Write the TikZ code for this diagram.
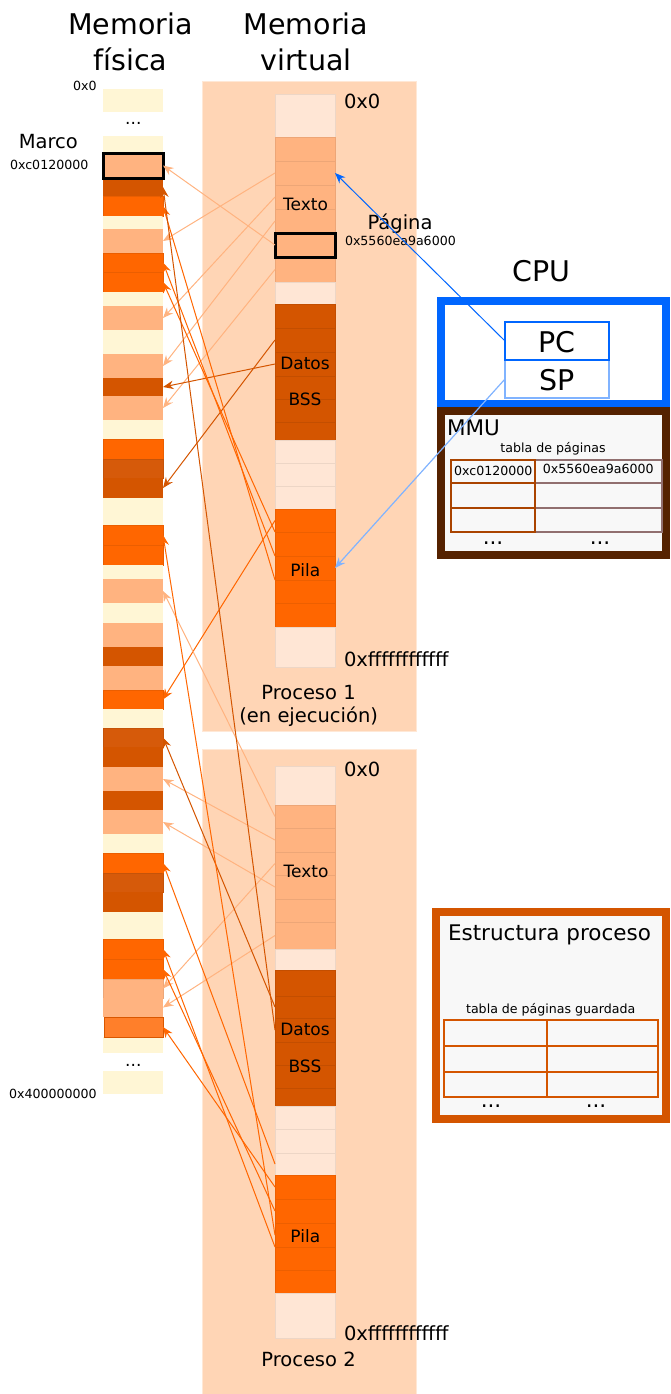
\documentclass[tikz,border=0pt]{standalone}
\usepackage{fontspec}
\setmainfont{DejaVu Sans}
\usetikzlibrary{arrows.meta}
\definecolor{cream}{HTML}{FFF6D5}
\definecolor{ltor}{HTML}{FFB380}
\definecolor{orn}{HTML}{FF6600}
\definecolor{dko}{HTML}{D45500}
\definecolor{mido}{HTML}{D65A0A}
\definecolor{orntwo}{HTML}{FF7F2A}
\definecolor{vbg}{HTML}{FFD5B5}
\definecolor{vlt}{HTML}{FFE6D5}
\definecolor{cpublue}{HTML}{0066FF}
\definecolor{spblue}{HTML}{80B3FF}
\definecolor{mmubrown}{HTML}{552200}
\definecolor{tblbrown}{HTML}{AA4400}
\definecolor{tblgray}{HTML}{916F6F}
\definecolor{panel}{HTML}{F8F8F8}
\newcommand\fTitle{\fontsize{28.5}{34}\selectfont}
\newcommand\fBig{\fontsize{19.5}{23}\selectfont}
\newcommand\fLab{\fontsize{17}{20}\selectfont}
\newcommand\fSm{\fontsize{12.6}{15}\selectfont}
\newcommand\fMid{\fontsize{21.5}{26}\selectfont}
\newcommand{\blk}[6]{%
 \pgfmathsetmacro\myBx{(#2+#3)/2}%
 \pgfmathsetmacro\myBy{(#4+#5)/2}%
 \pgfmathsetmacro\myBw{#3-#2}%
 \pgfmathsetmacro\myBh{#5-#4}%
 \node[blkbase,#6,minimum width=\myBw pt,minimum height=\myBh pt] (#1) at (\myBx,\myBy) {};}
\newcommand{\pb}[4]{\blk{#1}{103}{163}{#2}{#3}{#4}}
\newcommand{\vbk}[4]{\blk{#1}{275}{335}{#2}{#3}{#4}}
\tikzset{
 blkbase/.style={rectangle, inner sep=0pt, outer sep=0pt, line width=0.8pt},
 pcream/.style={fill=cream},
 plt/.style={fill=ltor},
 porn/.style={fill=orn, draw=orn!92!black},
 pdk/.style={fill=dko},
 pmid/.style={fill=mido, draw=mido!92!black},
 vl/.style={fill=vlt, draw=vlt!93!black},
 vt/.style={fill=ltor, draw=ltor!93!black},
 vd/.style={fill=dko, draw=dko!92!black},
 vp/.style={fill=orn, draw=orn!93!black},
 txt/.style={inner sep=0pt, outer sep=0pt, anchor=base},
 lnk/.style={line width=1pt, -{Stealth[length=10.5pt,width=8.5pt,inset=3.5pt]}},
 ltxt/.style={lnk, draw=ltor},
 ldat/.style={lnk, draw=dko},
 lpil/.style={lnk, draw=orn},
}
\begin{document}
\begin{tikzpicture}[x=1pt,y=-1pt]
\useasboundingbox (0,0) rectangle (670,1394);
% titles
\node[txt,font=\fTitle] (tmf1) at (130.5,35) {Memoria};
\node[txt,font=\fTitle] (tmf2) at (130.5,70.5) {física};
\node[txt,font=\fTitle] (tmv1) at (306,35) {Memoria};
\node[txt,font=\fTitle] (tmv2) at (306,70.5) {virtual};
% virtual backgrounds
\blk{bgone}{202}{416}{82}{731}{fill=vbg, draw=vbg!55!white, line width=1pt}
\blk{bgtwo}{202}{416}{749}{1400}{fill=vbg, draw=vbg!55!white, line width=1pt}
% physical memory
\node[txt,font=\fSm,anchor=base east] (l0x0) at (96.7,91) {0x0};
\node[txt,font=\fLab,anchor=base] (pdots1) at (133.3,124.5) {...};
\node[txt,font=\fBig] (lmarco) at (48.3,149) {Marco};
\node[txt,font=\fSm] (lmarcoaddr) at (49.2,169.3) {0xc0120000};
\node[txt,font=\fSm,anchor=base east] (lend) at (96.7,1098.3) {0x400000000};
\node[txt,font=\fLab,anchor=base] (pdots2) at (133.3,1066) {...};
\pb{p0}{89}{112}{pcream}
\pb{p1}{136}{153}{pcream}
\pb{p2}{178}{196}{pdk}
\pb{p3}{196}{216}{porn}
\pb{p4}{216}{229}{pcream}
\pb{p5}{229}{253}{plt}
\pb{p6}{253}{272}{porn}
\pb{p7}{272}{292}{porn}
\pb{p8}{292}{306}{pcream}
\pb{p9}{306}{330}{plt}
\pb{p10}{330}{354}{pcream}
\pb{p11}{354}{378}{plt}
\pb{p12}{378}{396}{pdk}
\pb{p13}{396}{420}{plt}
\pb{p14}{420}{439}{pcream}
\pb{p15}{439}{459}{porn}
\pb{p16}{459}{478}{pmid}
\pb{p17}{478}{498}{pdk}
\pb{p18}{498}{525}{pcream}
\pb{p19}{525}{545}{porn}
\pb{p20}{545}{565}{porn}
\pb{p21}{565}{579}{pcream}
\pb{p22}{579}{603}{plt}
\pb{p23}{603}{623}{pcream}
\pb{p24}{623}{647}{plt}
\pb{p25}{647}{666}{pdk}
\pb{p26}{666}{690}{plt}
\pb{p27}{690}{709}{porn}
\pb{p28}{709}{728}{pcream}
\pb{p29}{728}{747}{pmid}
\pb{p30}{747}{767}{pdk}
\pb{p31}{767}{791}{plt}
\pb{p32}{791}{810}{pdk}
\pb{p33}{810}{834}{plt}
\pb{p34}{834}{853}{pcream}
\pb{p35}{853}{873}{porn}
\pb{p36}{873}{892}{pmid}
\pb{p37}{892}{912}{pdk}
\pb{p38}{912}{939}{pcream}
\pb{p39}{939}{959}{porn}
\pb{p40}{959}{979}{porn}
\pb{p41}{979}{998}{plt, draw=ltor!93!black}
\pb{p42}{998}{1017}{plt}
\pb{p44}{1037}{1053}{pcream}
\pb{p45}{1071}{1094}{pcream}
\blk{p43}{104}{163}{1017}{1037}{fill=orntwo, draw=orn!85!black, line width=1pt}
\pb{pM}{153}{178}{plt, draw=black, line width=3pt}
% virtual process 1
\node[txt,font=\fBig,anchor=base west] (v1lo) at (344,109) {0x0};
\vbk{v1a}{94}{137}{vl}
\vbk{v1t1}{137}{161}{vt}
\vbk{v1t2}{161}{185}{vt}
\vbk{v1t3}{185}{209}{vt}
\vbk{v1t4}{209}{233}{vt}
\vbk{v1t6}{257}{282}{vt}
\vbk{v1b}{282}{304}{vl}
\vbk{v1d1}{304}{328}{vd}
\vbk{v1d2}{328}{352}{vd}
\vbk{v1d3}{352}{376}{vd}
\vbk{v1d4}{376}{399}{vd}
\vbk{v1d5}{399}{422}{vd}
\vbk{v1d6}{422}{440}{vd}
\vbk{v1e1}{440}{463}{vl}
\vbk{v1e2}{463}{486}{vl}
\vbk{v1e3}{486}{509}{vl}
\vbk{v1s1}{509}{532}{vp}
\vbk{v1s2}{532}{556}{vp}
\vbk{v1s3}{556}{580}{vp}
\vbk{v1s4}{580}{603}{vp}
\vbk{v1s5}{603}{627}{vp}
\vbk{v1f}{627}{667}{vl}
\vbk{v1t5}{233}{257}{fill=ltor, draw=black, line width=3pt}
\node[txt,font=\fLab] (v1ltext) at (305.5,210) {Texto};
\node[txt,font=\fLab] (v1ldat) at (305,369) {Datos};
\node[txt,font=\fLab] (v1lbss) at (305,405.5) {BSS};
\node[txt,font=\fLab] (v1lpila) at (305.3,576.5) {Pila};
\node[txt,font=\fBig] (lpag) at (400,229.3) {Página};
\node[txt,font=\fSm,anchor=base west] (lpagaddr) at (345,245.7) {0x5560ea9a6000};
\node[txt,font=\fBig,anchor=base west] (v1hi) at (344,666) {0xffffffffffff};
\node[txt,font=\fBig] (lp1a) at (308.5,699) {Proceso 1};
\node[txt,font=\fBig] (lp1b) at (308.7,722.5) {(en ejecución)};
% virtual process 2
\node[txt,font=\fBig,anchor=base west] (v2lo) at (344,776) {0x0};
\vbk{v2a}{766}{805}{vl}
\vbk{v2t1}{805}{828}{vt}
\vbk{v2t2}{828}{852}{vt}
\vbk{v2t3}{852}{875}{vt}
\vbk{v2t4}{875}{899}{vt}
\vbk{v2t5}{899}{922}{vt}
\vbk{v2t6}{922}{949}{vt}
\vbk{v2b}{949}{970}{vl}
\vbk{v2d1}{970}{996}{vd}
\vbk{v2d2}{996}{1018}{vd}
\vbk{v2d3}{1018}{1042}{vd}
\vbk{v2d4}{1042}{1065}{vd}
\vbk{v2d5}{1065}{1088}{vd}
\vbk{v2d6}{1088}{1106}{vd}
\vbk{v2e1}{1106}{1129}{vl}
\vbk{v2e2}{1129}{1153}{vl}
\vbk{v2e3}{1153}{1175}{vl}
\vbk{v2s1}{1175}{1199}{vp}
\vbk{v2s2}{1199}{1223}{vp}
\vbk{v2s3}{1223}{1247}{vp}
\vbk{v2s4}{1247}{1270}{vp}
\vbk{v2s5}{1270}{1293}{vp}
\vbk{v2f}{1293}{1338}{vl}
\node[txt,font=\fLab] (v2ltext) at (306,877) {Texto};
\node[txt,font=\fLab] (v2ldat) at (305,1035.5) {Datos};
\node[txt,font=\fLab] (v2lbss) at (305,1072.5) {BSS};
\node[txt,font=\fLab] (v2lpila) at (305.3,1242) {Pila};
\node[txt,font=\fBig,anchor=base west] (v2hi) at (344,1340) {0xffffffffffff};
\node[txt,font=\fBig] (lp2) at (308.5,1366) {Proceso 2};
% CPU
\node[txt,font=\fTitle] (lcpu) at (541.5,281) {CPU};
\blk{cpu}{441}{666}{301}{404}{fill=white, draw=cpublue, line width=8pt}
\blk{sp}{505}{609}{360}{398}{fill=white, draw=spblue, line width=2.5pt}
\blk{pc}{505}{609}{322}{360}{fill=white, draw=cpublue, line width=2.5pt}
\node[txt,font=\fTitle] (lpc) at (557,352) {PC};
\node[txt,font=\fTitle] (lsp) at (557,390) {SP};
% MMU
\blk{mmu}{441}{666}{411}{555}{fill=panel, draw=mmubrown, line width=8pt}
\node[txt,font=\fMid,anchor=base west] (lmmu) at (447,435) {MMU};
\node[txt,font=\fSm] (ltab) at (553,452) {tabla de páginas};
\blk{mr1}{535}{662}{460}{483}{draw=tblgray, line width=2.2pt}
\blk{mr2}{535}{662}{483}{508}{draw=tblgray, line width=2.2pt}
\blk{mr3}{535}{662}{508}{532}{draw=tblgray, line width=2.2pt}
\blk{ml1}{451}{535}{460}{483}{draw=tblbrown, line width=2.5pt}
\blk{ml2}{451}{535}{483}{508}{draw=tblbrown, line width=2.5pt}
\blk{ml3}{451}{535}{508}{532}{draw=tblbrown, line width=2.5pt}
\node[txt,font=\fSm] (lt1) at (493.3,475.7) {0xc0120000};
\node[txt,font=\fSm] (lt2) at (598.3,473.3) {0x5560ea9a6000};
\node[txt,font=\fMid] (mdl) at (493,544) {...};
\node[txt,font=\fMid] (mdr) at (600,544) {...};
% Estructura proceso
\blk{est}{435.5}{666}{912}{1119}{fill=panel, draw=dko, line width=8pt}
\node[txt,font=\fMid] (lest) at (549.5,940) {Estructura proceso};
\node[txt,font=\fSm] (ltabg) at (550.7,1013.3) {tabla de páginas guardada};
\blk{e11}{444}{547}{1020}{1046}{draw=dko, line width=2pt}
\blk{e12}{547}{658}{1020}{1046}{draw=dko, line width=2pt}
\blk{e21}{444}{547}{1046}{1072}{draw=dko, line width=2pt}
\blk{e22}{547}{658}{1046}{1072}{draw=dko, line width=2pt}
\blk{e31}{444}{547}{1072}{1097}{draw=dko, line width=2pt}
\blk{e32}{547}{658}{1072}{1097}{draw=dko, line width=2pt}
\node[txt,font=\fMid] (edl) at (491,1107) {...};
\node[txt,font=\fMid] (edr) at (596,1107) {...};
% links process 1
\draw[ltxt] (v1t2.west) -- (p5.east);
\draw[ltxt] (v1t3.west) -- (p9.east);
\draw[ltxt] (v1t4.west) -- (p11.east);
\draw[ltxt] (v1t5.west) -- (pM.east);
\draw[ltxt] (v1t6.west) -- (p13.east);
\draw[ldat] (v1d3.west) -- (p12.east);
\draw[ldat] (v1d2.west) -- (p17.east);
\draw[lpil] (v1s1.west) -- (p27.east);
\draw[lpil] (v1s2.north west) -- (p7.east);
\draw[lpil] (v1s3.north west) -- (p6.east);
\draw[lpil] (v1s4.north west) -- (p3.east);
% links process 2
\draw[ltxt] (v2t1.west) -- (p22.east);
\draw[ltxt] (v2t2.west) -- (p31.east);
\draw[ltxt] (v2t4.west) -- (p33.east);
\draw[ltxt] (v2t3.west) -- (p41.east);
\draw[ltxt] (v2t6.west) -- (p42.east);
\draw[ldat] (v2d2.west) -- (p29.east);
\draw[ldat] (v2d3.west) -- (p2.east);
\draw[lpil] (v2e3.west) -- (p35.east);
\draw[lpil] (v2s1.west) -- (p43.east);
\draw[lpil] (v2s2.west) -- (p40.east);
\draw[lpil] (v2s3.west) -- (p19.east);
\draw[lpil] (v2s4.north west) -- (p39.east);
% CPU registers
\draw[lnk, draw=cpublue] (pc.west) -- (v1t2.east);
\draw[lnk, draw=spblue, line width=1.2pt] (sp.west) -- (v1s3.east);
\end{tikzpicture}
\end{document}
